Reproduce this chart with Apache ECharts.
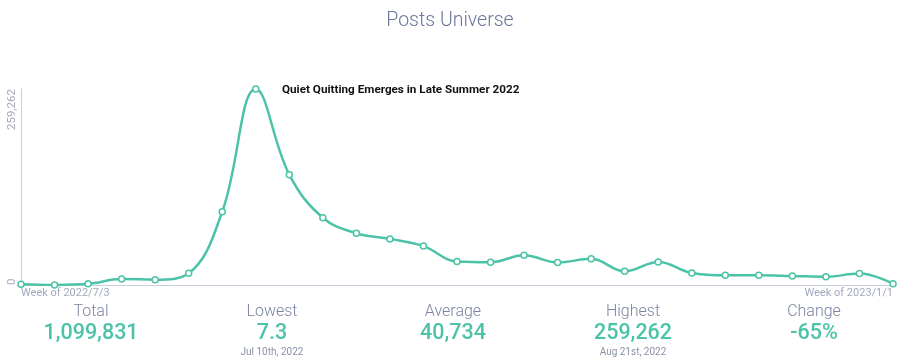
<!DOCTYPE html>
<html>
<head>
<meta charset="utf-8">
<script src="https://cdn.jsdelivr.net/npm/echarts@6/dist/echarts.min.js"></script>
<style>
html,body{margin:0;padding:0;background:#fff;}
#main{width:900px;height:364px;}
</style>
</head>
<body>
<div id="main"></div>
<script>
const weeks = ["2022/7/3","2022/7/10","2022/7/17","2022/7/24","2022/7/31","2022/8/7","2022/8/14","2022/8/21","2022/8/28","2022/9/4","2022/9/11","2022/9/18","2022/9/25","2022/10/2","2022/10/9","2022/10/16","2022/10/23","2022/10/30","2022/11/6","2022/11/13","2022/11/20","2022/11/27","2022/12/4","2022/12/11","2022/12/18","2022/12/25","2023/1/1"];
const posts = [900,7.3,1500,7900,7000,15500,97000,259262,146000,89000,68500,61000,51500,31100,30200,39300,29800,34600,18100,30500,15900,12800,12800,11900,11000,15100,1700];
const yTicks = [0,259262];
const statLabels = ["Total","Lowest","Average","Highest","Change"];
const statValues = ["1,099,831","7.3","40,734","259,262","-65%"];
const statNotes = ["","Jul 10th, 2022","","Aug 21st, 2022",""];
const chartTitle = "Posts Universe";
const annotation = "Quiet Quitting Emerges in Late Summer 2022";

const teal = "#4cc3a8";
const font = "Roboto, 'Noto Sans', sans-serif";
const chart = echarts.init(document.getElementById('main'));
const colX = [91, 272, 453, 633, 814];
const graphics = [];
statLabels.forEach((s,i)=>{
  graphics.push({type:'text',x:colX[i],y:304,style:{text:s,font:"300 16px Roboto",fill:"#7b84a1",textAlign:'center'}});
  graphics.push({type:'text',x:colX[i],y:323,style:{text:statValues[i],font:"500 21.5px Roboto",fill:teal,textAlign:'center'}});
  if(statNotes[i]) graphics.push({type:'text',x:colX[i],y:347,style:{text:statNotes[i],font:"10px Roboto",fill:"#8a91a8",textAlign:'center'}});
});
graphics.push({type:'text',x:282,y:84,style:{text:annotation,font:"bold 11.7px Roboto",fill:"#111"}});

chart.setOption({
  animation:false,
  title:{text:chartTitle,left:'center',top:6,textStyle:{fontFamily:'Roboto',fontWeight:300,fontSize:19.5,color:'#6a7597'}},
  grid:{left:21,right:7,top:89,bottom:79,containLabel:false},
  xAxis:{type:'category',data:weeks,boundaryGap:false,
    axisLine:{lineStyle:{color:'#c9cedd',width:1}},axisTick:{show:false},
    axisLabel:{interval:(i)=> i===0 || i===weeks.length-1,formatter:v=>'Week of '+v,color:'#a3a9bd',fontSize:11,fontFamily:font,margin:3,alignMinLabel:'left',alignMaxLabel:'right',showMinLabel:true,showMaxLabel:true}},
  yAxis:{type:'value',min:0,max:yTicks[1],interval:yTicks[1],
    axisLine:{show:true,lineStyle:{color:'#c9cedd',width:1}},axisTick:{show:false},splitLine:{show:false},
    axisLabel:{rotate:90,color:'#a3a9bd',fontSize:11.5,fontFamily:font,margin:3,formatter:v=>v.toLocaleString('en-US'),alignMinLabel:'left',alignMaxLabel:'right',showMinLabel:true,showMaxLabel:true}},
  series:[{type:'line',data:posts,smooth:0.4,symbol:'circle',symbolSize:6,
    lineStyle:{color:teal,width:2.5},itemStyle:{color:'#fff',borderColor:teal,borderWidth:1.5},showAllSymbol:true}],
  graphic:graphics
});
</script>
</body>
</html>
